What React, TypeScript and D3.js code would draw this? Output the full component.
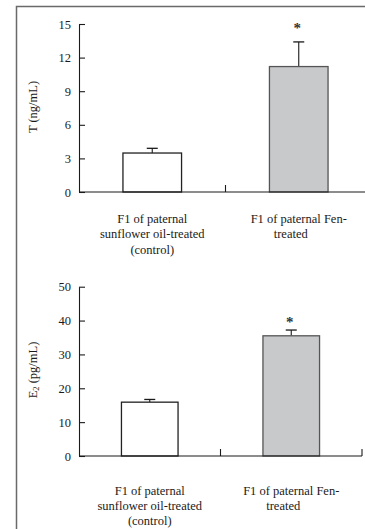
import { useEffect, useRef } from 'react'
import * as d3 from 'd3'

const CATEGORIES = ['control', 'fen']
const CATEGORY_LINES = [
  ['F1 of paternal', 'sunflower oil-treated', '(control)'],
  ['F1 of paternal Fen-', 'treated'],
]

const T_MEAN = [3.48, 11.2]
const T_ERR = [0.42, 2.2]
const T_TICKS = [0, 3, 6, 9, 12, 15]

const E2_MEAN = [15.9, 35.5]
const E2_ERR = [0.8, 1.7]
const E2_TICKS = [0, 10, 20, 30, 40, 50]

const SIGNIFICANT = [false, true]

const FILLS = ['#ffffff', '#c8c9cb']
const STROKES = ['#222222', '#555555']
const INK = '#1a1a1a'
const FONT = '"Liberation Serif", "Times New Roman", serif'

type Panel = {
  top: number
  bottom: number
  xEnd: number
  max: number
  ticks: number[]
  mean: number[]
  err: number[]
  label: string
  sub?: string
  labelY: number
  catY: number
  catStep: number
  starGap: number
}

const PANELS: Panel[] = [
  {
    top: 24, bottom: 192, xEnd: 372, max: 15, ticks: T_TICKS,
    mean: T_MEAN, err: T_ERR, label: 'T (ng/mL)', labelY: 107,
    catY: 222.5, catStep: 15.6, starGap: 9,
  },
  {
    top: 286.7, bottom: 456, xEnd: 362, max: 50, ticks: E2_TICKS,
    mean: E2_MEAN, err: E2_ERR, label: 'E', sub: '2', labelY: 370,
    catY: 494.6, catStep: 15.1, starGap: 3,
  },
]

export default function App() {
  const svgRef = useRef<SVGSVGElement>(null)

  useEffect(() => {
    if (!svgRef.current) return
    const svg = d3.select(svgRef.current)
    svg.selectAll('*').remove()

    const W = 365
    const H = 529
    const axisX = 79

    // ---- outer frame ----
    svg.append('path')
      .attr('d', `M16.5,${H} L16.5,6.5 L${W + 2},6.5`)
      .attr('fill', 'none')
      .attr('stroke', '#6a6a6a')
      .attr('stroke-width', 1.5)

    PANELS.forEach((p) => {
      const y = d3.scaleLinear().domain([0, p.max]).range([p.bottom, p.top])
      const x = d3.scaleBand<string>().domain(CATEGORIES).range([axisX, p.xEnd]).padding(0)
      const barW = x.bandwidth() * 0.4

      const g = svg.append('g')

      // ---- y axis, ticks pointing inward ----
      const yAxis = g.append('g')
        .attr('transform', `translate(${axisX},0)`)
        .call(
          d3.axisLeft(y)
            .tickValues(p.ticks)
            .tickSizeInner(-6)
            .tickSizeOuter(0)
            .tickPadding(8)
            .tickFormat((d) => d3.format('d')(d as number)),
        )
      yAxis.select('.domain').attr('stroke', INK).attr('stroke-width', 1.1)
      yAxis.selectAll('.tick line').attr('stroke', INK).attr('stroke-width', 1.1)
      yAxis.selectAll('.tick text')
        .attr('font-family', FONT)
        .attr('font-size', '12.5px')
        .attr('fill', INK)

      // ---- bars ----
      CATEGORIES.forEach((c, i) => {
        const cx = (x(c) ?? 0) + x.bandwidth() / 2
        const top = y(p.mean[i])
        const errTop = y(p.mean[i] + p.err[i])

        g.append('line')
          .attr('x1', cx).attr('x2', cx)
          .attr('y1', top).attr('y2', errTop)
          .attr('stroke', INK).attr('stroke-width', 1.1)
        g.append('line')
          .attr('x1', cx - 5.5).attr('x2', cx + 5.5)
          .attr('y1', errTop).attr('y2', errTop)
          .attr('stroke', INK).attr('stroke-width', 1.3)

        g.append('rect')
          .attr('x', cx - barW / 2)
          .attr('y', top)
          .attr('width', barW)
          .attr('height', p.bottom - top)
          .attr('fill', FILLS[i])
          .attr('stroke', STROKES[i])
          .attr('stroke-width', 1.3)

        if (SIGNIFICANT[i]) {
          g.append('text')
            .attr('x', cx - 1.5)
            .attr('y', errTop - p.starGap)
            .attr('text-anchor', 'middle')
            .attr('font-family', FONT)
            .attr('font-size', '15px')
            .attr('font-weight', 'bold')
            .attr('fill', '#333')
            .text('*')
        }

        // category labels
        CATEGORY_LINES[i].forEach((line, k) => {
          g.append('text')
            .attr('x', cx + (i === 1 && k === 1 ? -8 : 0))
            .attr('y', p.catY + k * p.catStep)
            .attr('text-anchor', 'middle')
            .attr('font-family', FONT)
            .attr('font-size', '12.5px')
            .attr('fill', INK)
            .text(line)
        })
      })

      // ---- x axis with upward separators ----
      g.append('line')
        .attr('x1', axisX).attr('x2', p.xEnd)
        .attr('y1', p.bottom).attr('y2', p.bottom)
        .attr('stroke', INK).attr('stroke-width', 1.2)
      CATEGORIES.forEach((c) => {
        const bx = (x(c) ?? 0) + x.bandwidth()
        g.append('line')
          .attr('x1', bx).attr('x2', bx)
          .attr('y1', p.bottom).attr('y2', p.bottom - 7)
          .attr('stroke', INK).attr('stroke-width', 1.1)
      })

      // ---- y label ----
      const lbl = g.append('text')
        .attr('transform', `translate(37,${p.labelY}) rotate(-90)`)
        .attr('text-anchor', 'middle')
        .attr('font-family', FONT)
        .attr('font-size', '12.5px')
        .attr('fill', INK)
      if (p.sub) {
        lbl.append('tspan').text(p.label)
        lbl.append('tspan').attr('font-size', '8.5px').attr('dy', 2).text(p.sub)
        lbl.append('tspan').attr('dy', -2).text(' (pg/mL)')
      } else {
        lbl.text(p.label)
      }
    })
  }, [])

  return (
    <div style={{ position: 'absolute', left: 0, top: 0 }}>
      <svg ref={svgRef} width={365} height={529} style={{ display: 'block', background: '#fff' }} />
    </div>
  )
}
